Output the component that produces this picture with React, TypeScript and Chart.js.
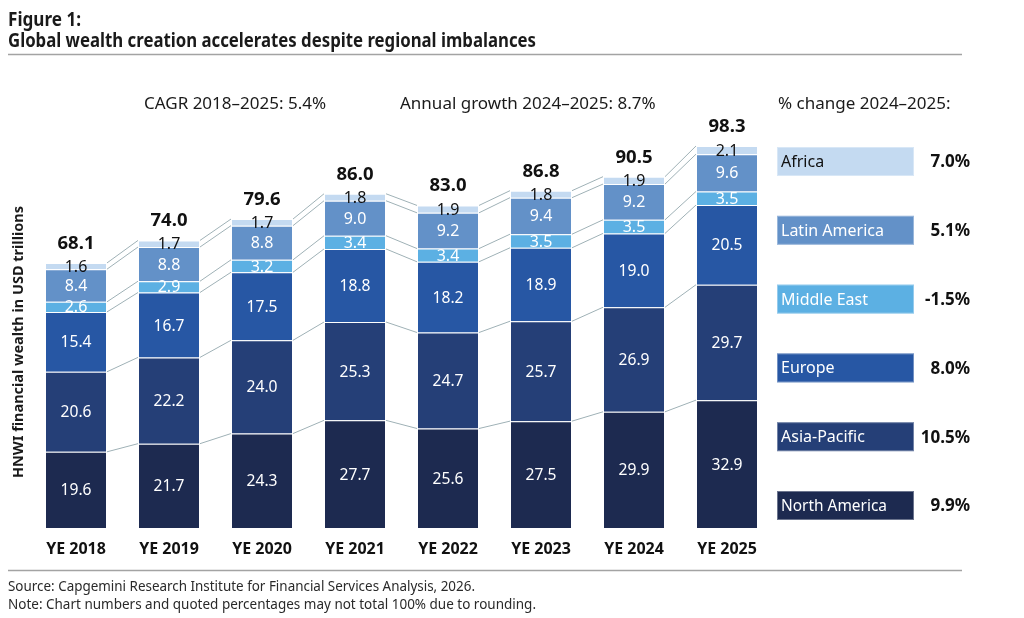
import React, { useEffect, useRef } from "react";
import { Chart, registerables } from "chart.js";

Chart.register(...registerables);

// ---------- data ----------
const categories = ["YE 2018", "YE 2019", "YE 2020", "YE 2021", "YE 2022", "YE 2023", "YE 2024", "YE 2025"];
const northAmerica = [19.6, 21.7, 24.3, 27.7, 25.6, 27.5, 29.9, 32.9];
const asiaPacific = [20.6, 22.2, 24.0, 25.3, 24.7, 25.7, 26.9, 29.7];
const europe = [15.4, 16.7, 17.5, 18.8, 18.2, 18.9, 19.0, 20.5];
const middleEast = [2.6, 2.9, 3.2, 3.4, 3.4, 3.5, 3.5, 3.5];
const latinAmerica = [8.4, 8.8, 8.8, 9.0, 9.2, 9.4, 9.2, 9.6];
const africa = [1.6, 1.7, 1.7, 1.8, 1.9, 1.8, 1.9, 2.1];
const totals = [68.1, 74.0, 79.6, 86.0, 83.0, 86.8, 90.5, 98.3];
const seriesNames = ["North America", "Asia-Pacific", "Europe", "Middle East", "Latin America", "Africa"];
const changePct = ["9.9%", "10.5%", "8.0%", "-1.5%", "5.1%", "7.0%"];

const titleLine1 = "Figure 1:";
const titleLine2 = "Global wealth creation accelerates despite regional imbalances";
const headerCagr = "CAGR 2018–2025: 5.4%";
const headerAnnual = "Annual growth 2024–2025: 8.7%";
const headerChange = "% change 2024–2025:";
const yAxisTitle = "HNWI financial wealth in USD trillions";
const sourceText = "Source: Capgemini Research Institute for Financial Services Analysis, 2026.";
const noteText = "Note: Chart numbers and quoted percentages may not total 100% due to rounding.";

// ---------- styles ----------
const seriesValues = [northAmerica, asiaPacific, europe, middleEast, latinAmerica, africa];
const seriesColors = ["#1d2a50", "#253f77", "#2757a4", "#5cb0e3", "#6391c8", "#c4daf1"];
const labelColors = ["#ffffff", "#ffffff", "#ffffff", "#ffffff", "#ffffff", "#111111"];
const FONT = '"Noto Sans", "DejaVu Sans", sans-serif';
const TEXT = "#1a1a1a";

function drawText(
  ctx: CanvasRenderingContext2D,
  s: string,
  x: number,
  y: number,
  font: string,
  color: string,
  align: CanvasTextAlign = "left",
  baseline: CanvasTextBaseline = "alphabetic",
  maxW?: number
) {
  ctx.save();
  ctx.font = font;
  ctx.fillStyle = color;
  ctx.textAlign = align;
  ctx.textBaseline = baseline;
  if (maxW !== undefined && ctx.measureText(s).width > maxW) ctx.fillText(s, x, y, maxW);
  else ctx.fillText(s, x, y);
  ctx.restore();
}

const overlay = {
  id: "overlay",
  beforeDatasetsDraw(chart: any) {
    const ctx: CanvasRenderingContext2D = chart.ctx;
    ctx.save();
    ctx.strokeStyle = "#9fb1b6";
    ctx.lineWidth = 1;
    for (let d = 0; d < seriesValues.length; d++) {
      const meta = chart.getDatasetMeta(d);
      for (let i = 0; i < categories.length - 1; i++) {
        const a = meta.data[i].getProps(["x", "y", "width"], true);
        const b = meta.data[i + 1].getProps(["x", "y", "width"], true);
        ctx.beginPath();
        ctx.moveTo(a.x + a.width / 2, a.y);
        ctx.lineTo(b.x - b.width / 2, b.y);
        ctx.stroke();
      }
    }
    ctx.restore();
  },
  afterDatasetsDraw(chart: any) {
    const ctx: CanvasRenderingContext2D = chart.ctx;
    for (let d = 0; d < seriesValues.length; d++) {
      const meta = chart.getDatasetMeta(d);
      meta.data.forEach((el: any, i: number) => {
        const p = el.getProps(["x", "y", "base"], true);
        drawText(ctx, seriesValues[d][i].toFixed(1), p.x, (p.y + p.base) / 2 + 1, `400 16px ${FONT}`, labelColors[d], "center", "middle", 31);
      });
    }
    const topMeta = chart.getDatasetMeta(seriesValues.length - 1);
    topMeta.data.forEach((el: any, i: number) => {
      const p = el.getProps(["x", "y"], true);
      drawText(ctx, totals[i].toFixed(1), p.x, p.y - 14, `700 18.5px ${FONT}`, "#111111", "center", "alphabetic", 39);
    });
  },
  afterDraw(chart: any) {
    const ctx: CanvasRenderingContext2D = chart.ctx;
    // title
    drawText(ctx, titleLine1, 8, 26, `700 19px ${FONT}`, TEXT, "left", "alphabetic", 73);
    drawText(ctx, titleLine2, 8, 47, `700 19px ${FONT}`, TEXT, "left", "alphabetic", 528);
    ctx.save();
    ctx.strokeStyle = "#a3a3a3";
    ctx.lineWidth = 1.5;
    ctx.beginPath();
    ctx.moveTo(8, 54.5);
    ctx.lineTo(962, 54.5);
    ctx.moveTo(8, 570.5);
    ctx.lineTo(962, 570.5);
    ctx.stroke();
    ctx.restore();
    // headers
    drawText(ctx, headerCagr, 144, 109, `400 17px ${FONT}`, TEXT, "left", "alphabetic", 189);
    drawText(ctx, headerAnnual, 400, 109, `400 17px ${FONT}`, TEXT, "left", "alphabetic", 265);
    drawText(ctx, headerChange, 778, 109, `400 17px ${FONT}`, TEXT, "left", "alphabetic", 177);
    // y axis title
    ctx.save();
    ctx.translate(19, 342);
    ctx.rotate(-Math.PI / 2);
    drawText(ctx, yAxisTitle, 0, 0, `700 14.5px ${FONT}`, TEXT, "center", "middle", 272);
    ctx.restore();
    // legend
    const boxX = 777;
    const boxW = 137;
    const boxH = 29;
    for (let k = 0; k < seriesNames.length; k++) {
      const row = seriesNames.length - 1 - k; // Africa on top
      const y = 147 + row * 68.8;
      ctx.save();
      ctx.fillStyle = seriesColors[k];
      ctx.fillRect(boxX, y, boxW, boxH);
      ctx.strokeStyle = "rgba(255,255,255,0.35)";
      ctx.lineWidth = 1;
      ctx.strokeRect(boxX + 0.5, y + 0.5, boxW - 1, boxH - 1);
      ctx.restore();
      drawText(ctx, seriesNames[k], boxX + 4, y + boxH / 2 + 1, `400 16px ${FONT}`, labelColors[k], "left", "middle", 106);
      drawText(ctx, changePct[k], 970, y + boxH / 2 + 1, `700 17px ${FONT}`, "#111111", "right", "middle");
    }
    // footer
    drawText(ctx, sourceText, 8, 591, `400 14px ${FONT}`, "#2a2a2a", "left", "alphabetic", 467);
    drawText(ctx, noteText, 8, 609, `400 14px ${FONT}`, "#2a2a2a", "left", "alphabetic", 528);
  },
};

export default function App() {
  const ref = useRef<HTMLCanvasElement | null>(null);
  useEffect(() => {
    if (!ref.current) return;
    const chart = new Chart(ref.current, {
      type: "bar",
      data: {
        labels: categories,
        datasets: seriesValues.map((vals, k) => ({
          label: seriesNames[k],
          data: vals,
          backgroundColor: seriesColors[k],
          borderColor: "rgba(255,255,255,0.28)",
          borderWidth: 1,
          barPercentage: 62 / 93,
          categoryPercentage: 1,
        })),
      },
      options: {
        responsive: false,
        animation: false,
        devicePixelRatio: 1,
        layout: { padding: { left: 29.5, right: 250.5, top: 100.5, bottom: 50 } },
        plugins: { legend: { display: false }, tooltip: { enabled: false }, title: { display: false } },
        scales: {
          x: {
            stacked: true,
            grid: { display: false, drawTicks: false },
            border: { display: false },
            ticks: { color: "#111111", font: { family: FONT, size: 16, weight: "bold" }, padding: 12, autoSkip: false, maxRotation: 0 },
            afterFit: (s: any) => {
              s.height = 40;
            },
          },
          y: { stacked: true, display: false, min: 0, max: 110 },
        },
      },
      plugins: [overlay],
    } as any);
    return () => chart.destroy();
  }, []);
  return (
    <div style={{ position: "fixed", left: 0, top: 0, width: 1024, height: 618, background: "#ffffff" }}>
      <canvas ref={ref} width={1024} height={618} style={{ display: "block", width: 1024, height: 618 }} />
    </div>
  );
}
